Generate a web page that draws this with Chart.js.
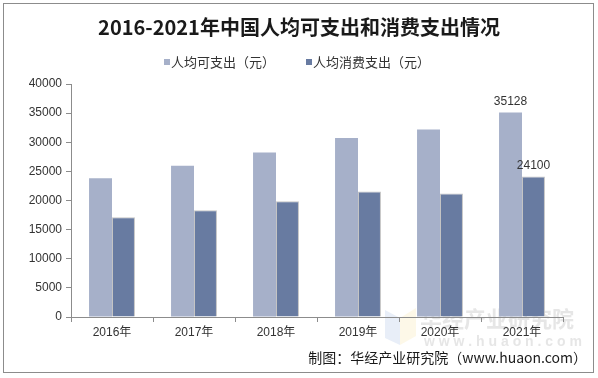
<!DOCTYPE html>
<html>
<head>
<meta charset="utf-8">
<script src="https://cdn.jsdelivr.net/npm/chart.js@4"></script>
<style>
html,body{margin:0;padding:0;background:#fff;}
#wrap{width:598px;height:378px;position:relative;}
</style>
</head>
<body>
<div id="wrap"><canvas id="c" width="598" height="378"></canvas></div>
<script>
const titleText = '2016-2021年中国人均可支出和消费支出情况';
const categories = ['2016年','2017年','2018年','2019年','2020年','2021年'];
const seriesNames = ['人均可支出（元）','人均消费支出（元）'];
const disposable = [23821, 25974, 28228, 30733, 32189, 35128];
const consumption = [17111, 18322, 19853, 21559, 21210, 24100];
const yTicks = [0,5000,10000,15000,20000,25000,30000,35000,40000];
const labeledIndex = 5;
const footerText = '制图：华经产业研究院（www.huaon.com）';

const colors = ['#a6b0c9','#687ba1'];
const CJK = '"Noto Sans CJK SC", "Liberation Sans", sans-serif';
const LAT = '"Liberation Sans", Arial, "Noto Sans CJK SC", sans-serif';

const decor = {
  id:'decor',
  beforeDraw(chart){
    const ctx = chart.ctx;
    ctx.save();
    ctx.fillStyle='#fff';
    ctx.fillRect(0,0,chart.width,chart.height);
    // watermark
    ctx.fillStyle='rgba(190,205,235,0.35)';
    ctx.beginPath();ctx.moveTo(385,310);ctx.lineTo(400,318);ctx.lineTo(400,345);ctx.lineTo(385,338);ctx.closePath();ctx.fill();
    ctx.fillStyle='rgba(250,235,190,0.35)';
    ctx.beginPath();ctx.moveTo(400,318);ctx.lineTo(416,308);ctx.lineTo(416,336);ctx.lineTo(400,345);ctx.closePath();ctx.fill();
    ctx.fillStyle='rgba(200,200,200,0.45)';
    ctx.font='bold 22px '+CJK;
    ctx.textAlign='left';ctx.textBaseline='middle';
    ctx.fillText('华经产业研究院',420,319);
    ctx.font='bold 14px '+LAT;
    ctx.fillText('w w w . h u a o n . c o m',424,342);
    ctx.restore();
  },
  afterDraw(chart){
    const ctx = chart.ctx;
    ctx.save();
    // border
    ctx.strokeStyle='#8c8c8c';ctx.lineWidth=1;
    ctx.strokeRect(3.5,3.5,590,369);
    // title
    ctx.fillStyle='#1a1a1a';
    ctx.font='bold 20px '+CJK;
    ctx.textAlign='center';ctx.textBaseline='middle';
    ctx.fillText(titleText,299,27);
    // legend
    ctx.font='13px '+CJK;
    ctx.textAlign='left';
    const lx=[164,306];
    seriesNames.forEach((n,i)=>{
      ctx.fillStyle=colors[i];
      ctx.fillRect(lx[i],59,6,6);
      ctx.fillStyle='#333';
      ctx.fillText(n,lx[i]+7,62);
    });
    // footer
    ctx.font='14px '+CJK;
    ctx.textAlign='right';ctx.fillStyle='#1a1a1a';
    ctx.fillText(footerText,587,358);
    // data labels
    ctx.font='12px '+LAT;ctx.fillStyle='#333';ctx.textAlign='center';ctx.textBaseline='bottom';
    chart.data.datasets.forEach((ds,di)=>{
      const bar = chart.getDatasetMeta(di).data[labeledIndex];
      ctx.fillText(String(ds.data[labeledIndex]), bar.x, bar.y-5);
    });
    ctx.restore();
  }
};

new Chart(document.getElementById('c'),{
  type:'bar',
  data:{
    labels:categories,
    datasets:[
      {label:seriesNames[0],data:disposable,backgroundColor:colors[0],borderWidth:0},
      {label:seriesNames[1],data:consumption,backgroundColor:colors[1],borderColor:'#c4c4c4',borderWidth:1}
    ]
  },
  options:{
    responsive:false,animation:false,
    layout:{padding:{top:84,left:0,right:35,bottom:0}},
    plugins:{legend:{display:false},title:{display:false},tooltip:{enabled:false}},
    datasets:{bar:{categoryPercentage:0.56,barPercentage:1.0}},
    scales:{
      x:{
        grid:{display:true,offset:true,drawOnChartArea:false,drawTicks:true,tickLength:5,color:'#8c8c8c'},
        border:{display:true,color:'#8c8c8c'},
        ticks:{color:'#333',font:{family:LAT,size:12},padding:3},
        afterFit(s){s.height=61;}
      },
      y:{
        min:0,max:40000,
        afterBuildTicks(s){s.ticks=yTicks.map(v=>({value:v}));},
        grid:{display:true,drawOnChartArea:false,drawTicks:true,tickLength:5,color:'#8c8c8c'},
        border:{display:true,color:'#8c8c8c'},
        ticks:{color:'#333',font:{family:LAT,size:12},padding:4,callback:(v)=>String(v)},
        afterFit(s){s.width=71;}
      }
    }
  },
  plugins:[decor]
});
</script>
</body>
</html>
